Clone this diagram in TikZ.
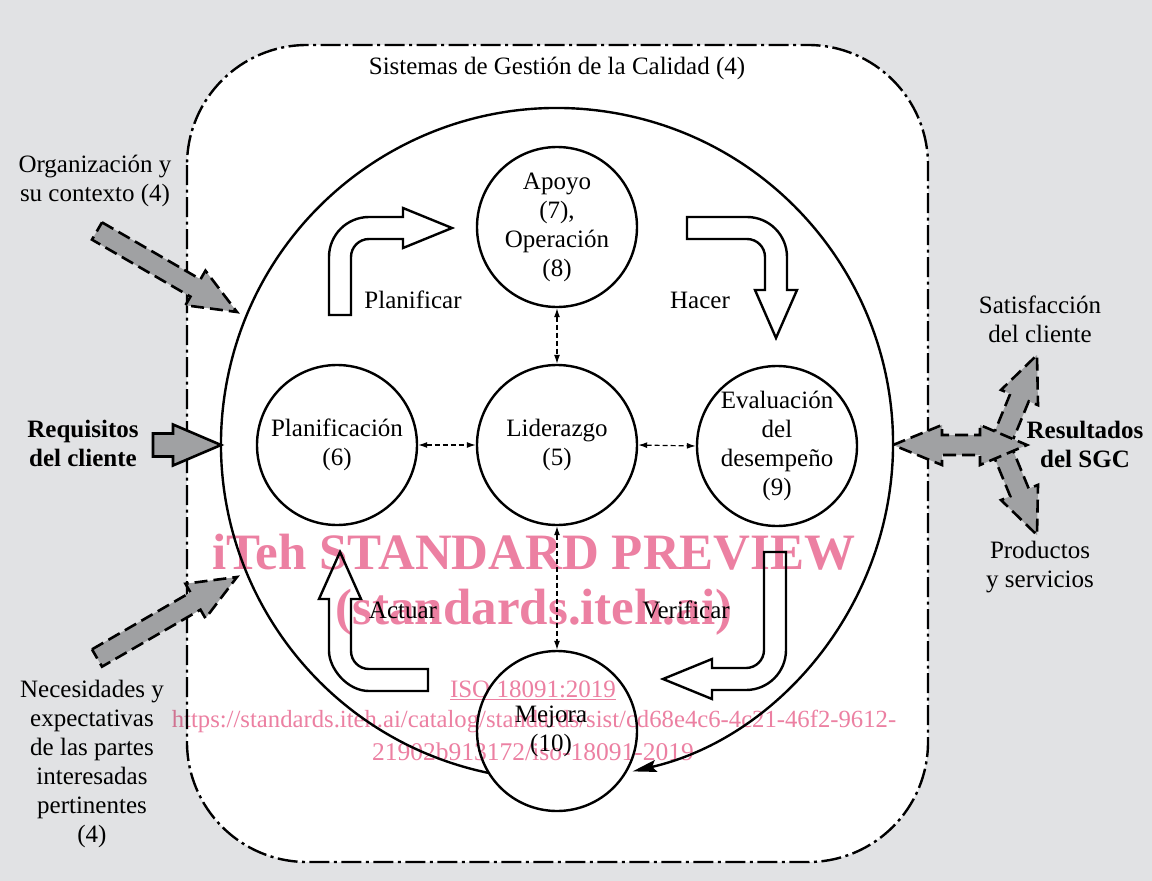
\documentclass[tikz,border=0pt]{standalone}
\usepackage{fontspec}
\setmainfont{Liberation Serif}
\usetikzlibrary{calc,arrows.meta}
\definecolor{bggray}{RGB}{225,226,228}
\definecolor{arrgray}{RGB}{160,161,163}
\definecolor{wmpink}{RGB}{236,128,162}
\tikzset{
  txt/.style={font=\fontsize{25}{29}\selectfont, align=center, inner sep=0pt},
  btxt/.style={font=\fontsize{25}{29}\selectfont\bfseries, align=center, inner sep=0pt},
  circ/.style={circle, draw, line width=2.4pt, fill=white, minimum size=160pt, inner sep=-15pt,
               font=\fontsize{25}{29}\selectfont, align=center},
  conn/.style={line width=1.2pt, dash pattern=on 5pt off 3pt,
               {Latex[length=9pt,width=6pt]}-{Latex[length=9pt,width=6pt]}},
  hollow/.style={draw, line width=2.4pt, fill=white, line join=miter},
  garrow/.style={draw, line width=2.6pt, fill=arrgray, dash pattern=on 13pt off 6pt, line join=miter},
  sarrow/.style={draw, line width=2.6pt, fill=arrgray, line join=miter},
  dashdot/.style={line width=2.4pt, dash pattern=on 20pt off 4.5pt on 3pt off 4.5pt},
  bigcirc/.style={line width=2.4pt, -{Stealth[length=24pt,width=12pt,inset=4pt]}},
  wm/.style={text=wmpink, inner sep=0pt, align=center}
}
\newcommand{\blockarr}[6]{%
  \coordinate (ba-a) at (#2);
  \coordinate (ba-b) at (#3);
  \coordinate (ba-c) at ($(ba-b)!#6!(ba-a)$);
  \draw[#1] ($(ba-a)!#4!90:(ba-b)$) -- ($(ba-c)!#4!-90:(ba-a)$) -- ($(ba-c)!#5!-90:(ba-a)$)
    -- (ba-b) -- ($(ba-c)!#5!90:(ba-a)$) -- ($(ba-c)!#4!90:(ba-a)$) -- ($(ba-a)!#4!-90:(ba-b)$) -- cycle;}
\begin{document}
\begin{tikzpicture}[x=1pt,y=1pt]
\useasboundingbox (0,0) rectangle (1152,-881);
\fill[bggray] (0,0) rectangle (1152,-881);
% outer system boundary
\draw[dashdot, fill=white, rounded corners=120pt] (187,-45) rectangle (928,-862);
\node[txt] (title) at (557,-68) {Sistemas de Gestión de la Calidad (4)};
% big cycle
\draw[bigcirc] (557,-444) ++(258.3:336) arc[start angle=258.3, end angle=-77, radius=336];
% circles
\node[circ] (apoyo) at (557,-227) {Apoyo\\(7),\\Operación\\(8)};
\node[circ] (lider) at (557,-445) {Liderazgo\\(5)};
\node[circ] (plan) at (337,-445) {Planificación\\(6)};
\node[circ] (eval) at (777,-446) {Evaluación\\del\\desempeño\\(9)};
\node[circ] (mejora) at (557,-731) {};
\node[txt] (mejoratxt) at (551,-731) {Mejora\\(10)};
% dashed connectors
\draw[conn] (apoyo.south) -- (lider.north);
\draw[conn] (lider.south) -- (mejora.north);
\draw[conn] (plan.east) -- (lider.west);
\draw[conn] (lider.east) -- (eval.west);
% PDCA arrows
\draw[hollow] (329,-315) -- (329,-257) .. controls (329,-234.9) and (346.9,-217) .. (369,-217) -- (403,-217)
  -- (403,-208) -- (452,-228) -- (403,-248) -- (403,-239) -- (369,-239)
  .. controls (359.06,-239) and (351,-247.06) .. (351,-257) -- (351,-315) -- cycle;
\draw[hollow] (687,-217) -- (747,-217) .. controls (769.1,-217) and (787,-234.9) .. (787,-257) -- (787,-290)
  -- (797,-290) -- (776,-338) -- (755,-290) -- (765,-290) -- (765,-257)
  .. controls (765,-247.06) and (756.94,-239) .. (747,-239) -- (687,-239) -- cycle;
\draw[hollow] (764,-552) -- (786,-552) -- (786,-650) .. controls (786,-672.1) and (768.1,-690) .. (746,-690)
  -- (712,-690) -- (712,-699) -- (663,-679) -- (712,-659) -- (712,-668) -- (746,-668)
  .. controls (755.94,-668) and (764,-659.94) .. (764,-650) -- cycle;
\draw[hollow] (428,-669) -- (428,-691) -- (369,-691) .. controls (346.9,-691) and (329,-668.1) .. (329,-651)
  -- (329,-599) -- (319,-599) -- (340,-552) -- (361,-599) -- (351,-599) -- (351,-651)
  .. controls (351,-660.94) and (359.06,-669) .. (369,-669) -- cycle;
\node[txt] (planificar) at (413,-300) {Planificar};
\node[txt] (hacer) at (700,-300) {Hacer};
\node[txt] (actuar) at (403,-610) {Actuar};
\node[txt] (verificar) at (686,-610) {Verificar};
% input arrows
\blockarr{garrow}{97,-231}{237,-312}{10pt}{20pt}{48pt}
\blockarr{sarrow}{153,-445}{221,-445}{11.5pt}{20.5pt}{48pt}
\blockarr{garrow}{97,-658}{237,-577}{10pt}{20pt}{48pt}
% output arrows
\blockarr{garrow}{1000,-445}{1037,-355}{10pt}{20pt}{46pt}
\blockarr{garrow}{1000,-445}{1037,-535}{10pt}{20pt}{46pt}
\draw[garrow] (893,-445) -- (942,-425) -- (942,-435) -- (980,-435) -- (980,-425) -- (1027,-445)
  -- (980,-465) -- (980,-455) -- (942,-455) -- (942,-465) -- cycle;
% outside texts
\node[txt] (org) at (95,-181) {Organización y\\su contexto (4)};
\node[btxt] (req) at (83,-443) {Requisitos\\del cliente};
\node[txt] (nec) at (92,-764) {Necesidades y\\expectativas\\de las partes\\interesadas\\pertinentes\\(4)};
\node[txt] (sat) at (1040,-319) {Satisfacción\\del cliente};
\node[btxt] (res) at (1085,-444) {Resultados\\del SGC};
\node[txt] (prod) at (1040,-567) {Productos\\y servicios};
% watermark
\begin{scope}[blend mode=multiply]
\node[wm, font=\fontsize{51}{55}\selectfont\bfseries] (wm1) at (534,-552) {iTeh STANDARD PREVIEW};
\node[wm, font=\fontsize{51}{55}\selectfont\bfseries] (wm2) at (534,-612) {(standards.iteh.ai)};
\node[wm, font=\fontsize{25}{28}\selectfont] (wm3) at (533,-690) {\underline{ISO 18091:2019}};
\node[wm, font=\fontsize{24.7}{30}\selectfont] (wm4) at (534,-721) {https://standards.iteh.ai/catalog/standards/sist/cd68e4c6-4c21-46f2-9612-};
\node[wm, font=\fontsize{25.5}{30}\selectfont] (wm5) at (533,-752) {21902b913172/iso-18091-2019};
\end{scope}
\end{tikzpicture}
\end{document}
